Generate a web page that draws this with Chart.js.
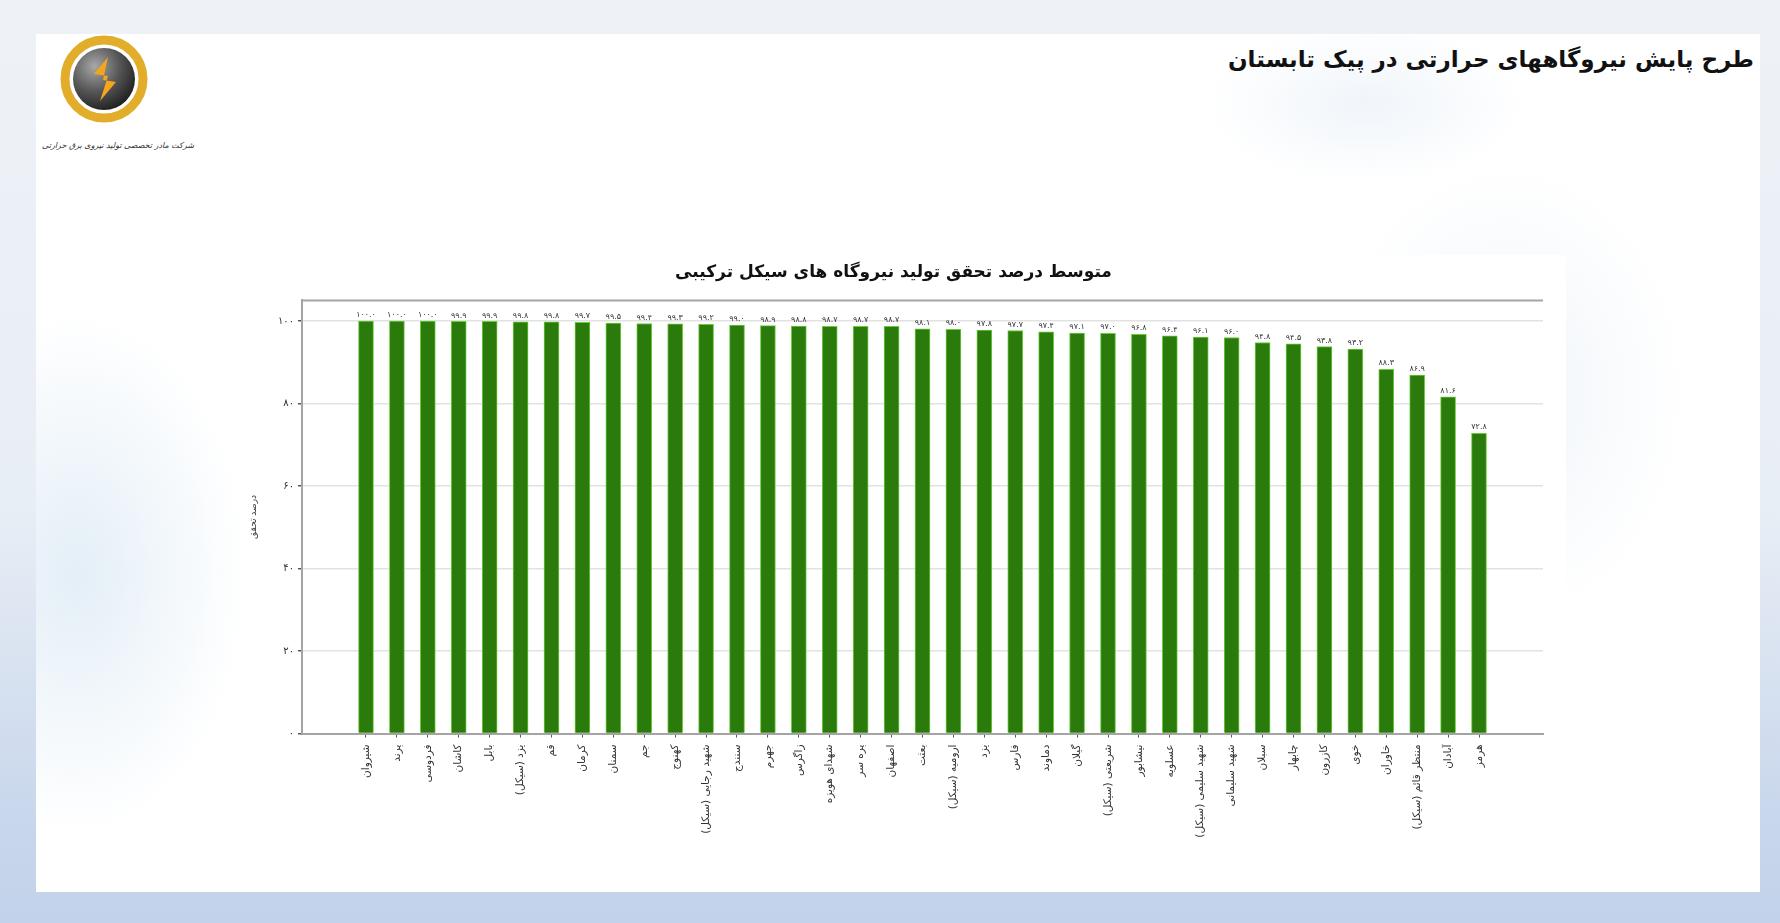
<!DOCTYPE html>
<html lang="fa">
<head>
<meta charset="utf-8">
<title>طرح پایش نیروگاههای حرارتی در پیک تابستان</title>
<script src="https://cdn.jsdelivr.net/npm/chart.js@4.4.1/dist/chart.umd.min.js"></script>
<style>
  html,body{margin:0;padding:0;}
  body{width:1780px;height:923px;overflow:hidden;position:relative;
    background:linear-gradient(to bottom,#eef2f7 0%,#e8eef5 55%,#c9d7ec 88%,#c2d2ea 100%);
    font-family:"DejaVu Sans",sans-serif;}
  #card{position:absolute;left:36px;top:34px;width:1724px;height:858px;background:#fff;
    background-image:
      radial-gradient(ellipse 170px 260px at 40px 540px, rgba(205,225,240,.55), rgba(255,255,255,0)),
      radial-gradient(ellipse 180px 230px at 1470px 360px, rgba(230,238,246,.6), rgba(255,255,255,0)),
      radial-gradient(ellipse 160px 80px at 1330px 70px, rgba(225,235,245,.5), rgba(255,255,255,0));}
  #title{position:absolute;right:26px;top:46px;font-size:23px;font-weight:bold;color:#111;direction:rtl;}
  #logo{position:absolute;left:56px;top:22px;}
  #logoText{position:absolute;left:44px;top:141px;width:150px;font-size:8px;font-style:italic;color:#333;direction:rtl;text-align:center;white-space:nowrap;}
  #wrap{position:absolute;left:244px;top:255px;width:1322px;height:608px;background:#fff;}
</style>
</head>
<body>
<div id="card"></div>
<svg id="logo" width="100" height="116" viewBox="0 0 100 116">
  <defs>
    <radialGradient id="inner" cx="35%" cy="30%" r="75%">
      <stop offset="0" stop-color="#a8a8a8"/>
      <stop offset="0.55" stop-color="#555"/>
      <stop offset="1" stop-color="#1f1f1f"/>
    </radialGradient>
  </defs>
  <circle cx="48" cy="57" r="39" fill="none" stroke="#e3ad2c" stroke-width="9"/>
  <circle cx="48" cy="57" r="31" fill="url(#inner)"/>
  <path d="M52 35 L38 52 L52 54 L44 79 L60 60 L47 58 Z" fill="#f4a51e"/>
</svg>
<div id="logoText">شرکت مادر تخصصی تولید نیروی برق حرارتی</div>
<div id="title">طرح پایش نیروگاههای حرارتی در پیک تابستان</div>
<div id="wrap"><canvas id="c"></canvas></div>
<script>
const plants = [
  'شیروان','پرند','فردوسی','کاشان','بابل','یزد (سیکل)','قم','کرمان','سمنان','جم',
  'کهنوج','شهید رجایی (سیکل)','سنندج','جهرم','زاگرس','شهدای هویزه','پره سر','اصفهان','بعثت','ارومیه (سیکل)',
  'یزد','فارس','دماوند','گیلان','شریعتی (سیکل)','نیشابور','عسلویه','شهید سلیمی (سیکل)','شهید سلیمانی','سبلان',
  'چابهار','کازرون','خوی','خاوران','منتظر قائم (سیکل)','آبادان','هرمز'
];
const realization = [
  100.0,100.0,100.0,99.9,99.9,99.8,99.8,99.7,99.5,99.4,
  99.3,99.2,99.0,98.9,98.8,98.7,98.7,98.7,98.1,98.0,
  97.8,97.7,97.4,97.1,97.0,96.8,96.4,96.1,96.0,94.8,
  94.5,93.8,93.2,88.3,86.9,81.6,72.8
];
const yTicks = [0,20,40,60,80,100];
const chartTitle = 'متوسط درصد تحقق تولید نیروگاه های سیکل ترکیبی';
const yTitle = 'درصد تحقق';

const fa = s => String(s).replace(/\d/g, d => '۰۱۲۳۴۵۶۷۸۹'[d]);

// برچسب مقدار بالای هر میله + خط بالای کادر
const barLabels = {
  id:'barLabels',
  afterDatasetsDraw(chart){
    const {ctx, chartArea} = chart;
    ctx.save();
    ctx.strokeStyle = '#a4a4a4'; ctx.lineWidth = 2;
    ctx.beginPath(); ctx.moveTo(chartArea.left, chartArea.top); ctx.lineTo(chartArea.right, chartArea.top); ctx.stroke();
    ctx.font = '8px "DejaVu Sans"'; ctx.fillStyle = '#333';
    ctx.textAlign = 'center'; ctx.textBaseline = 'bottom';
    chart.getDatasetMeta(0).data.forEach((bar,i)=>{
      ctx.fillText(fa(realization[i].toFixed(1)), bar.x, bar.y - 2);
    });
    ctx.restore();
  }
};

new Chart(document.getElementById('c'), {
  type:'bar',
  data:{
    datasets:[{
      data: realization.map((v,i)=>({x:i, y:v})),
      backgroundColor:'#2a7b0b',
      borderColor:'#6acb3c',
      borderWidth:1,
      barThickness:15
    }]
  },
  options:{
    responsive:true, maintainAspectRatio:false, animation:false,
    devicePixelRatio:1,
    layout:{padding:{right:23}},
    plugins:{
      legend:{display:false}, tooltip:{enabled:false},
      title:{display:true, text:chartTitle, color:'#111',
        font:{family:'DejaVu Sans', size:17, weight:'bold', lineHeight:1.2},
        padding:{top:7, bottom:18}}
    },
    scales:{
      x:{
        type:'linear', min:-2.07, max:38.07, offset:false,
        afterBuildTicks: s => { s.ticks = plants.map((_,i)=>({value:i})); },
        afterFit: s => { s.height = 129.5; },
        ticks:{autoSkip:false, minRotation:90, maxRotation:90, padding:7, color:'#333',
          font:{family:'DejaVu Sans', size:10.5},
          callback: v => plants[v]},
        grid:{offset:false, drawOnChartArea:false, drawTicks:true, tickLength:4, tickColor:'#555'},
        border:{color:'#a4a4a4', width:2}
      },
      y:{
        min:0, max:105,
        afterBuildTicks: s => { s.ticks = yTicks.map(v=>({value:v})); },
        afterFit: s => { s.width = 58; },
        ticks:{color:'#333', padding:4, font:{family:'DejaVu Sans', size:10}, callback: v => fa(v)},
        grid:{color:'#e2e2e2', lineWidth:1.5, tickLength:4, tickColor:'#555'},
        border:{color:'#a4a4a4', width:2},
        title:{display:true, text:yTitle, color:'#333', font:{family:'DejaVu Sans', size:9}, padding:{bottom:2}}
      }
    }
  },
  plugins:[barLabels]
});
</script>
</body>
</html>
